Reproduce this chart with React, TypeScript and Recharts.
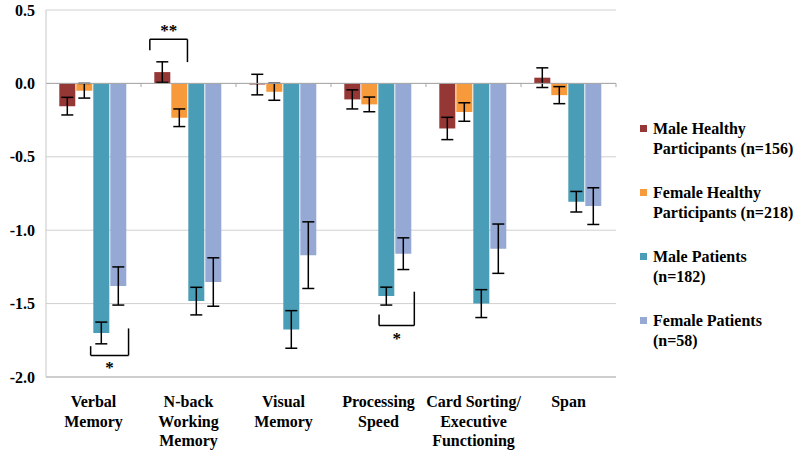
import React from 'react';
import {
  BarChart,
  Bar,
  XAxis,
  YAxis,
  CartesianGrid,
  ErrorBar,
  ReferenceLine,
} from 'recharts';

// category labels, one entry per line of the axis label
const categoryLines = [
  ['Verbal', 'Memory'],
  ['N-back', 'Working', 'Memory'],
  ['Visual', 'Memory'],
  ['Processing', 'Speed'],
  ['Card Sorting/', 'Executive', 'Functioning'],
  ['Span'],
];

const maleHealthy = [-0.155, 0.077, -0.008, -0.109, -0.307, 0.039];
const maleHealthyErr = [0.06, 0.07, 0.07, 0.065, 0.076, 0.067];
const femaleHealthy = [-0.05, -0.234, -0.057, -0.143, -0.195, -0.08];
const femaleHealthyErr = [0.05, 0.06, 0.058, 0.05, 0.063, 0.058];
const malePatients = [-1.7, -1.483, -1.676, -1.449, -1.5, -0.806];
const malePatientsErr = [0.074, 0.094, 0.128, 0.061, 0.095, 0.07];
const femalePatients = [-1.38, -1.353, -1.17, -1.16, -1.126, -0.836];
const femalePatientsErr = [0.13, 0.165, 0.227, 0.108, 0.168, 0.125];

const yTicks = [0.5, 0, -0.5, -1, -1.5, -2];

// significance brackets, x in category units (0..6), y in data units
const brackets = [
  { x1: 1.093, x2: 1.489, y: 0.3, y1: 0.225, y2: 0.145, label: '**', side: 'top' },
  { x1: 0.47, x2: 0.869, y: -1.853, y1: -1.79, y2: -1.669, label: '*', side: 'bottom' },
  { x1: 3.506, x2: 3.877, y: -1.649, y1: -1.574, y2: -1.419, label: '*', side: 'bottom' },
];
const boundaryTicks = [1, 2, 3, 4, 5, 6];

const series = [
  { key: 'mh', err: 'mhErr', color: '#953735', legend: ['Male Healthy', 'Participants (n=156)'] },
  { key: 'fh', err: 'fhErr', color: '#F79A3C', legend: ['Female Healthy', 'Participants (n=218)'] },
  { key: 'mp', err: 'mpErr', color: '#4A9DB6', legend: ['Male Patients', '(n=182)'] },
  { key: 'fp', err: 'fpErr', color: '#95A9D4', legend: ['Female Patients', '(n=58)'] },
];

const data = categoryLines.map((lines, i) => ({
  name: lines.join(' '),
  slot: i + 0.5,
  mh: maleHealthy[i],
  mhErr: maleHealthyErr[i],
  fh: femaleHealthy[i],
  fhErr: femaleHealthyErr[i],
  mp: malePatients[i],
  mpErr: malePatientsErr[i],
  fp: femalePatients[i],
  fpErr: femalePatientsErr[i],
}));

const FONT =
  "'Liberation Serif', 'Noto Serif', 'Nimbus Roman', 'Nimbus Roman No9 L', FreeSerif, Tinos, 'Times New Roman', Times, 'DejaVu Serif', serif";

const CategoryTick = (props: any) => {
  const { x, y, index } = props;
  const lines = categoryLines[index] || [];
  return (
    <text
      x={x}
      y={y + 22}
      textAnchor="middle"
      fontFamily={FONT}
      fontWeight="bold"
      fontSize={16}
      fill="#000"
    >
      {lines.map((l, i) => (
        <tspan key={i} x={x} dy={i === 0 ? 0 : 19.5}>
          {l}
        </tspan>
      ))}
    </text>
  );
};

export default function App() {
  return (
    <div
      style={{
        position: 'absolute',
        left: 0,
        top: 0,
        width: 800,
        height: 455,
        background: '#fff',
      }}
    >
      <BarChart
        width={800}
        height={455}
        data={data}
        margin={{ top: 10, right: 184, left: 1, bottom: 8 }}
        barCategoryGap="14%"
        barGap={1}
      >
        <CartesianGrid vertical={false} stroke="#d0d0d0" />
        <XAxis
          dataKey="name"
          height={70}
          axisLine={{ stroke: '#b5b5b5' }}
          tickLine={false}
          interval={0}
          tick={<CategoryTick />}
        />
        <XAxis
          xAxisId="num"
          dataKey="slot"
          type="number"
          domain={[0, 6]}
          allowDataOverflow
          hide
        />
        <YAxis
          width={45}
          domain={[-2, 0.5]}
          ticks={yTicks}
          interval={0}
          allowDataOverflow
          axisLine={{ stroke: '#c8c8c8' }}
          tickLine={false}
          tickMargin={5}
          tickFormatter={(v: number) => v.toFixed(1)}
          tick={{ fontFamily: FONT, fontWeight: 'bold', fontSize: 16, fill: '#000' }}
        />
        {series.map((s) => (
          <Bar key={s.key} dataKey={s.key} fill={s.color} isAnimationActive={false}>
            <ErrorBar dataKey={s.err} width={6} stroke="#000" strokeWidth={1.5} />
          </Bar>
        ))}
        <ReferenceLine y={0} stroke="#a6a6a6" strokeWidth={1} />
        {boundaryTicks.map((t) => (
          <ReferenceLine
            key={'t' + t}
            xAxisId="num"
            segment={[{ x: t, y: 0 }, { x: t, y: -0.025 }]}
            stroke="#a6a6a6"
          />
        ))}
        {brackets.map((b, i) => (
          <ReferenceLine
            key={'h' + i}
            xAxisId="num"
            segment={[{ x: b.x1, y: b.y }, { x: b.x2, y: b.y }]}
            stroke="#000"
            strokeWidth={1.5}
            label={{
              value: b.label,
              position: b.side as any,
              offset: b.side === 'top' ? 3 : 6,
              fontFamily: FONT,
              fontWeight: 'bold',
              fontSize: 17,
              fill: '#000',
            }}
          />
        ))}
        {brackets.map((b, i) => (
          <ReferenceLine
            key={'l' + i}
            xAxisId="num"
            segment={[{ x: b.x1, y: b.y }, { x: b.x1, y: b.y1 }]}
            stroke="#000"
            strokeWidth={1.5}
          />
        ))}
        {brackets.map((b, i) => (
          <ReferenceLine
            key={'r' + i}
            xAxisId="num"
            segment={[{ x: b.x2, y: b.y }, { x: b.x2, y: b.y2 }]}
            stroke="#000"
            strokeWidth={1.5}
          />
        ))}
      </BarChart>
      <div
        style={{
          position: 'absolute',
          left: 640,
          top: 118.5,
          fontFamily: FONT,
          fontWeight: 'bold',
          fontSize: 16,
          lineHeight: '20px',
          color: '#000',
        }}
      >
        {series.map((s) => (
          <div key={s.key} style={{ position: 'relative', paddingLeft: 13, marginBottom: 24 }}>
            <span
              style={{
                position: 'absolute',
                left: 0,
                top: 6.5,
                width: 7,
                height: 7,
                background: s.color,
              }}
            />
            {s.legend.map((l, i) => (
              <div key={i} style={{ whiteSpace: 'nowrap' }}>
                {l}
              </div>
            ))}
          </div>
        ))}
      </div>
    </div>
  );
}
